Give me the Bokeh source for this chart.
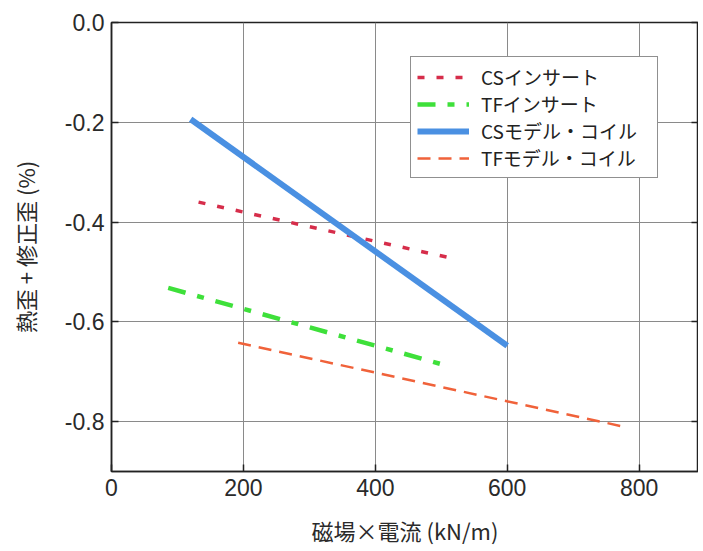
from bokeh.plotting import figure
from bokeh.models import Range1d, LinearAxis, Legend, LegendItem, FixedTicker
from bokeh.embed import file_html
from bokeh.resources import INLINE

# Data
cs_insert_x = [132, 521]
cs_insert_y = [-0.36, -0.474]
tf_insert_x = [86, 498]
tf_insert_y = [-0.532, -0.684]
cs_model_x = [120, 600]
cs_model_y = [-0.194, -0.648]
tf_model_x = [192, 783]
tf_model_y = [-0.642, -0.812]

x_ticks = [0, 200, 400, 600, 800]
y_ticks = [0.0, -0.2, -0.4, -0.6, -0.8]
y_tick_labels = {0.0: "0.0", -0.2: "-0.2", -0.4: "-0.4", -0.6: "-0.6", -0.8: "-0.8"}

labels = ["CSインサート", "TFインサート", "CSモデル・コイル", "TFモデル・コイル"]

FONT = "Liberation Sans"
JP = "Noto Sans CJK JP"

p = figure(width=698, height=551, output_backend="svg", toolbar_location=None,
           x_range=Range1d(0, 890), y_range=Range1d(-0.9, 0.0),
           min_border_left=111, min_border_right=0, min_border_top=22, min_border_bottom=80)
p.background_fill_color = "white"
p.border_fill_color = "white"
p.outline_line_color = "#222222"
p.outline_line_width = 1.5

for ax in (p.xaxis[0], p.yaxis[0]):
    ax.axis_line_color = "#222222"
    ax.axis_line_width = 1.5
    ax.major_tick_in = 7
    ax.major_tick_out = 0
    ax.minor_tick_line_color = None
    ax.major_tick_line_color = "#222222"
    ax.major_tick_line_width = 1.5
    ax.major_label_text_font = FONT
    ax.major_label_text_font_size = "23px"
    ax.major_label_text_color = "#2a2a2a"
    ax.axis_label_text_font = JP
    ax.axis_label_text_font_size = "22px"
    ax.axis_label_text_font_style = "normal"
    ax.axis_label_text_color = "#2a2a2a"

p.xaxis[0].ticker = FixedTicker(ticks=x_ticks)
p.yaxis[0].ticker = FixedTicker(ticks=y_ticks)
p.yaxis[0].major_label_overrides = y_tick_labels
p.xaxis[0].major_label_standoff = 7
p.yaxis[0].major_label_standoff = 7
p.xaxis[0].axis_label = "磁場×電流 (kN/m)"
p.yaxis[0].axis_label = "熱歪 + 修正歪 (%)"
p.xaxis[0].axis_label_standoff = 15
p.yaxis[0].axis_label_standoff = 21

ry = LinearAxis(ticker=FixedTicker(ticks=y_ticks),
                major_label_overrides={t: "" for t in y_ticks},
                major_label_standoff=0,
                major_tick_in=7, major_tick_out=0, minor_tick_line_color=None,
                axis_line_color="#222222", major_tick_line_color="#222222", major_tick_line_width=1.5)
p.add_layout(ry, "right")

p.xgrid.ticker = FixedTicker(ticks=x_ticks)
p.ygrid.ticker = FixedTicker(ticks=y_ticks)
p.grid.grid_line_color = "#8a8a8a"
p.grid.grid_line_width = 1

r1 = p.line(cs_insert_x, cs_insert_y, line_color="#d62d4a", line_width=3.5, line_dash="7 12")
r2 = p.line(tf_insert_x, tf_insert_y, line_color="#3ee03a", line_width=4.5, line_dash="18 12 7 12")
r3 = p.line(cs_model_x, cs_model_y, line_color="#4a90e2", line_width=6)
r4 = p.line(tf_model_x, tf_model_y, line_color="#f0623a", line_width=2.5, line_dash="13 8")

legend = Legend(items=[LegendItem(label=l, renderers=[r]) for l, r in zip(labels, [r1, r2, r3, r4])],
                location=(299, 293))
legend.label_text_font = JP
legend.label_text_font_size = "19px"
legend.label_text_color = "#222222"
legend.border_line_color = "#222222"
legend.border_line_width = 1.5
legend.background_fill_color = "white"
legend.background_fill_alpha = 1
legend.glyph_width = 52
legend.glyph_height = 24
legend.label_height = 24
legend.label_width = 170
legend.spacing = 0
legend.padding = 6
legend.margin = 0
legend.label_standoff = 12
p.add_layout(legend, "center")

open("out.html", "w").write(file_html(p, INLINE))
